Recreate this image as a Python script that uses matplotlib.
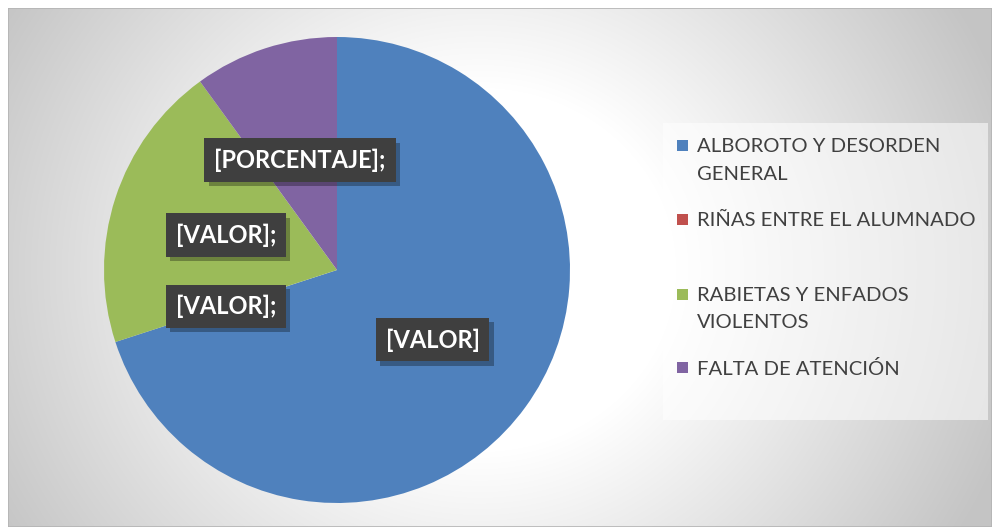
import matplotlib
matplotlib.use("Agg")
import matplotlib.pyplot as plt
import matplotlib.patheffects as pe
from matplotlib.patches import Rectangle
import numpy as np

plt.rcParams['font.family'] = ['Lato', 'DejaVu Sans']

# datos del gráfico
categorias = ["ALBOROTO Y DESORDEN GENERAL", "RIÑAS ENTRE EL ALUMNADO",
              "RABIETAS Y ENFADOS VIOLENTOS", "FALTA DE ATENCIÓN"]
leyenda = ["ALBOROTO Y DESORDEN\nGENERAL", "RIÑAS ENTRE EL ALUMNADO",
           "RABIETAS Y ENFADOS\nVIOLENTOS", "FALTA DE ATENCIÓN"]
valores = [70, 0, 20, 10]
etiquetas = ["[VALOR]", "[VALOR];", "[VALOR];", "[PORCENTAJE];"]
colores = ["#4F81BD", "#C0504D", "#9BBB59", "#8064A2"]

# donde van las etiquetas (coordenadas del eje de la tarta)
pos_etiquetas = [(0.41, -0.30), (-0.476, -0.155), (-0.476, 0.150), (-0.159, 0.472)]

W, H = 992, 527
fig = plt.figure(figsize=(W / 100, H / 100), dpi=100)
fig.patch.set_facecolor("white")


def fx(px):
    return px / W


def fy(py):
    return 1 - py / H


# fondo con degradado radial
bg = fig.add_axes([fx(8), 0, 1 - fx(8), 1 - 8 / H])
xs = np.arange(8, W) + 0.5
ys = np.arange(8, H) + 0.5
X, Y = np.meshgrid(xs, ys)
r = np.sqrt(((X - 480) / 560) ** 2 + ((Y - 270) / 520) ** 2)
t = np.clip((r - 0.35) / 0.65, 0, 1)
gris = (255 - t * 59) / 255
img = np.dstack([gris, gris, gris])
bg.imshow(img, extent=(8, W, H, 8), aspect="auto", interpolation="bilinear")
bg.set_xlim(8, W)
bg.set_ylim(H, 8)
bg.axis("off")
bg.add_patch(Rectangle((8, 8), W - 8, H - 8, fill=False, ec="#b4b4b4", lw=1.2))

# panel de la leyenda
bg.add_patch(Rectangle((663, 123), 325, 297, fc="white", ec="none", alpha=0.55))

ax = fig.add_axes([fx(104), fy(503), 466 / W, 466 / H])
ax.pie(valores, colors=colores, startangle=90, counterclock=False,
       wedgeprops=dict(linewidth=0))
ax.set_xlim(-1, 1)
ax.set_ylim(-1, 1)
ax.axis("off")

for (x, y), txt in zip(pos_etiquetas, etiquetas):
    t_ = ax.text(x, y, txt, ha="center", va="center", color="white",
                 fontweight="bold", fontsize=17,
                 bbox=dict(boxstyle="square,pad=0.42", fc="#3f3f3f", ec="none"))
    t_.get_bbox_patch().set_path_effects(
        [pe.withSimplePatchShadow(offset=(3, -3), shadow_rgbFace="black", alpha=0.3)])

# leyenda
filas_y = [145, 219, 294, 367]
for yl, lab, c in zip(filas_y, leyenda, colores):
    bg.add_patch(Rectangle((677, yl - 5.5), 11, 11, fc=c, ec="none"))
    bg.text(697, yl - 7, lab, ha="left", va="top", fontsize=14.6,
            color="#404040", linespacing=1.75)

fig.savefig("out.png", dpi=100)
